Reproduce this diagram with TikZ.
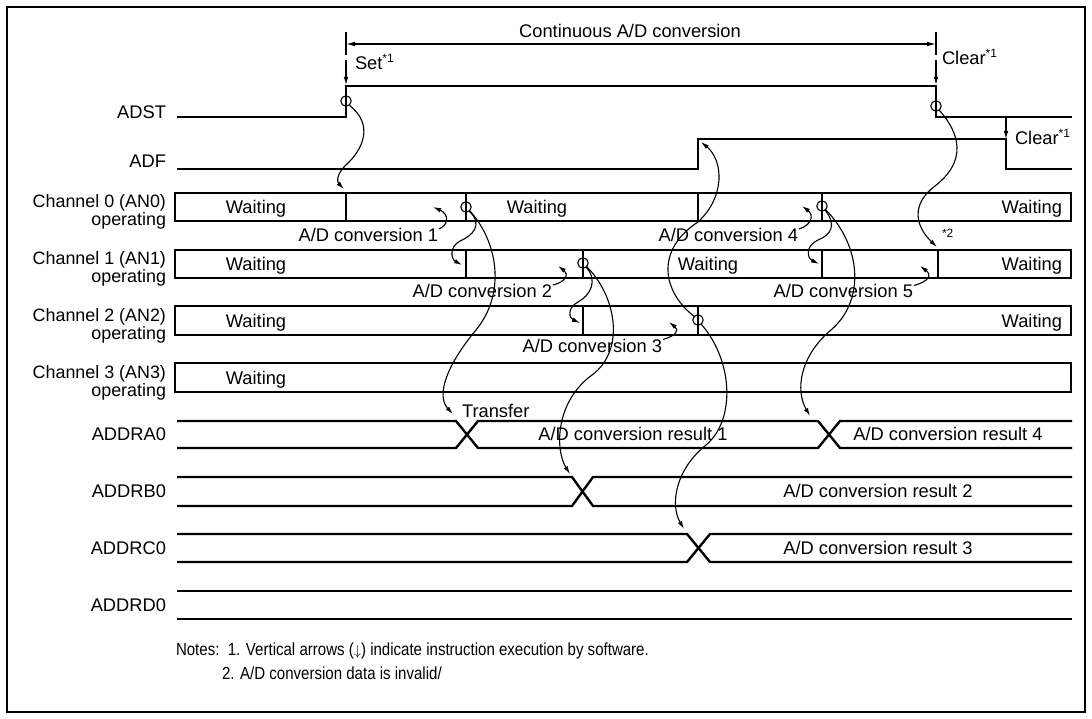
\documentclass[tikz,border=0pt]{standalone}
\usepackage{fontspec}
\setmainfont{Liberation Sans}
\newfontfamily\narrowf[FakeStretch=0.86]{Liberation Sans}
\usetikzlibrary{arrows.meta}
\newcommand\supx[1]{\raisebox{0.42em}{\fontsize{12}{12}\selectfont #1}}
\begin{document}
\begin{tikzpicture}[x=1pt,y=-1pt,
  every node/.style={inner sep=0pt, outer sep=0pt, font=\fontsize{18.3}{18.3}\selectfont},
  chl/.style={anchor=base east, font=\fontsize{17.9}{17.9}\selectfont},
  notef/.style={anchor=base west, font=\narrowf\fontsize{17.5}{17.5}\selectfont},
  sigline/.style={line width=2.4pt, line join=miter},
  thinl/.style={line width=1.1pt},
  conn/.style={line width=1.1pt, -{Latex[length=8pt,width=4.6pt]}},
  circ/.style={line width=1.1pt},
  frame/.style={line width=1.3pt}]
\useasboundingbox (0,0) rectangle (1092,719);
\draw[frame] (7,7) rectangle (1085,712);

% ---------- key coordinates ----------
\coordinate (cA) at (346,101);   % ADST set circle
\coordinate (cB) at (936,106);   % ADST clear circle
\coordinate (c0a) at (466,207);  % ch0 end conv 1
\coordinate (c0b) at (822,206);  % ch0 end conv 4
\coordinate (c1a) at (583,263);  % ch1 end conv 2
\coordinate (c2a) at (698,320);  % ch2 end conv 3

% ---------- top annotation ----------
\node[anchor=base] (tcont) at (630,38) {Continuous A/D conversion};
\coordinate (dimL) at (346,44);
\coordinate (dimR) at (936,44);
\draw[thinl] (346,32) -- (346,55);
\draw[thinl] (936,32) -- (936,55);
\draw[thinl, {Latex[length=9pt,width=4.6pt]}-{Latex[length=9pt,width=4.6pt]}] (dimL) -- (dimR);
\coordinate (setS) at (346,60);
\coordinate (setE) at (346,85);
\draw[conn] (setS) -- (setE);
\coordinate (clrS) at (936,60);
\coordinate (clrE) at (936,85);
\draw[conn] (clrS) -- (clrE);
\node[anchor=base west] (tset) at (355,70) {Set\supx{*1}};
\node[anchor=base west] (tclr1) at (942,65) {Clear\supx{*1}};

% ---------- ADST / ADF ----------
\node[anchor=base east] (lADST) at (166,119) {ADST};
\draw[sigline] (177,117) -- (346,117) -- (346,86) -- (936,86) -- (936,117) -- (1072,117);
\node[anchor=base east] (lADF) at (166,168) {ADF};
\draw[sigline] (177,169) -- (698,169) -- (698,139) -- (1006,139) -- (1006,169) -- (1072,169);
\coordinate (clr2S) at (1006,118);
\coordinate (clr2E) at (1006,139);
\draw[conn] (clr2S) -- (clr2E);
\node[anchor=base west] (tclr2) at (1015,145) {Clear\supx{*1}};

% ---------- channel labels ----------
\node[chl] (lc0a) at (166,208) {Channel 0 (AN0)};
\node[chl] (lc0b) at (166,226) {operating};
\node[chl] (lc1a) at (166,265) {Channel 1 (AN1)};
\node[chl] (lc1b) at (166,283) {operating};
\node[chl] (lc2a) at (166,321) {Channel 2 (AN2)};
\node[chl] (lc2b) at (166,339) {operating};
\node[chl] (lc3a) at (166,378) {Channel 3 (AN3)};
\node[chl] (lc3b) at (166,396) {operating};

% ---------- channel boxes ----------
\draw[sigline] (175,193) rectangle (1071,221);
\draw[sigline] (346,193) -- (346,221) (466,193) -- (466,221) (698,193) -- (698,221) (822,193) -- (822,221);
\draw[sigline] (175,250) rectangle (1071,278);
\draw[sigline] (466,250) -- (466,278) (583,250) -- (583,278) (822,250) -- (822,278) (938,250) -- (938,278);
\draw[sigline] (175,306) rectangle (1071,335);
\draw[sigline] (583,306) -- (583,335) (698,306) -- (698,335);
\draw[sigline] (175,363) rectangle (1071,392);

\node[anchor=base] (w0a) at (256,213.5) {Waiting};
\node[anchor=base] (w0b) at (537,213.5) {Waiting};
\node[anchor=base east] (w0c) at (1062,213.5) {Waiting};
\node[anchor=base] (w1a) at (256,270.5) {Waiting};
\node[anchor=base] (w1b) at (708,270.5) {Waiting};
\node[anchor=base east] (w1c) at (1062,270.5) {Waiting};
\node[anchor=base] (w2a) at (256,327) {Waiting};
\node[anchor=base east] (w2c) at (1062,327) {Waiting};
\node[anchor=base] (w3a) at (256,384) {Waiting};

% ---------- conversion labels with hooks ----------
\node[anchor=base east] (cv1) at (438,241.5) {A/D conversion 1};
\draw[conn] (cv1.east) ++(1,-6) .. controls +(10,-4) and (449,214) .. (433,207);
\node[anchor=base east] (cv2) at (552,297.5) {A/D conversion 2};
\draw[conn] (cv2.east) ++(1,-6) .. controls +(13,-3) and (569,274) .. (558,266);
\node[anchor=base east] (cv3) at (662,352) {A/D conversion 3};
\draw[conn] (cv3.east) ++(1,-6) .. controls +(14,-4) and (679,330) .. (669,322);
\node[anchor=base east] (cv4) at (798,241.5) {A/D conversion 4};
\draw[conn] (cv4.east) ++(1,-6) .. controls +(13,-4) and (814,215) .. (802,206);
\node[anchor=base east] (cv5) at (913,298) {A/D conversion 5};
\draw[conn] (cv5.east) ++(1,-6) .. controls +(15,-4) and (932,275) .. (920,266);
\node[anchor=base west, font=\fontsize{12}{12}\selectfont] (n2) at (942,238) {*2};

% ---------- ADDR registers ----------
\node[anchor=base east] (lA) at (166,440.5) {ADDRA0};
\draw[sigline] (177,421) -- (456,421) -- (478,448) -- (818,448) -- (840,421) -- (1072,421);
\draw[sigline] (177,448) -- (456,448) -- (478,421) -- (818,421) -- (840,448) -- (1072,448);
\node[anchor=base] (rA1) at (633,440.5) {A/D conversion result 1};
\node[anchor=base] (rA4) at (948,440.5) {A/D conversion result 4};
\node[anchor=base west] (ttr) at (462,417) {Transfer};

\node[anchor=base east] (lB) at (166,497.5) {ADDRB0};
\draw[sigline] (177,477) -- (572,477) -- (593,506) -- (1072,506);
\draw[sigline] (177,506) -- (572,506) -- (593,477) -- (1072,477);
\node[anchor=base] (rB) at (878,497.5) {A/D conversion result 2};

\node[anchor=base east] (lC) at (166,554.5) {ADDRC0};
\draw[sigline] (177,534) -- (687,534) -- (710,562) -- (1072,562);
\draw[sigline] (177,562) -- (687,562) -- (710,534) -- (1072,534);
\node[anchor=base] (rC) at (878,554.5) {A/D conversion result 3};

\node[anchor=base east] (lD) at (166,611.5) {ADDRD0};
\draw[sigline] (177,591) -- (1072,591);
\draw[sigline] (177,619) -- (1072,619);

% ---------- circles ----------
\foreach \c in {cA,cB,c0a,c0b,c1a,c2a} \draw[circ] (\c) circle (5.2);

% ---------- long connectors ----------
\coordinate (tC0) at (344,189);
\draw[conn] (cA) ++(3,4) .. controls (375,125) and (362,150) .. (347,164) .. controls (336,174) and (337,182) .. (tC0);

\coordinate (t1a) at (462,265);
\draw[conn] (c0a) ++(3,4) .. controls (484,225) and (472,236) .. (460,241) .. controls (449,247) and (451,259) .. (t1a);
\coordinate (tXA1) at (453,414);
\draw[conn] (c0a) ++(3,3) .. controls (497,240) and (507,292) .. (476,330) .. controls (446,366) and (436,396) .. (tXA1);

\coordinate (t2a) at (580,323);
\draw[conn] (c1a) ++(3,4) .. controls (598,280) and (591,295) .. (578,302) .. controls (567,308) and (569,318) .. (t2a);
\coordinate (tXB) at (570,474);
\draw[conn] (c1a) ++(3,3) .. controls (616,295) and (626,350) .. (592,375) .. controls (555,402) and (555,450) .. (tXB);

\coordinate (tS2) at (937,247);
\draw[conn] (cB) ++(3,4) .. controls (966,140) and (961,166) .. (935,186) .. controls (911,204) and (915,226) .. (tS2);

\coordinate (tADF) at (701,142);
\draw[conn] (c2a) ++(-3,-3) .. controls (662,292) and (655,250) .. (698,222) .. controls (726,196) and (723,160) .. (tADF);
\coordinate (tXC) at (684,529);
\draw[conn] (c2a) ++(3,4) .. controls (733,360) and (736,420) .. (706,445) .. controls (675,470) and (670,505) .. (tXC);

\coordinate (t1b) at (819,264);
\draw[conn] (c0b) ++(3,4) .. controls (837,225) and (831,235) .. (818,240) .. controls (805,246) and (807,258) .. (t1b);
\coordinate (tXA2) at (810,416);
\draw[conn] (c0b) ++(3,3) .. controls (861,245) and (866,300) .. (831,330) .. controls (800,356) and (795,390) .. (tXA2);

% ---------- notes ----------
\node[notef] (nt1) at (176,655) {Notes:\ \ 1. Vertical arrows ({\fontsize{15}{15}\selectfont$\downarrow$}) indicate instruction execution by software.};
\node[notef] (nt2) at (222,679) {2. A/D conversion data is invalid/};
\end{tikzpicture}
\end{document}
